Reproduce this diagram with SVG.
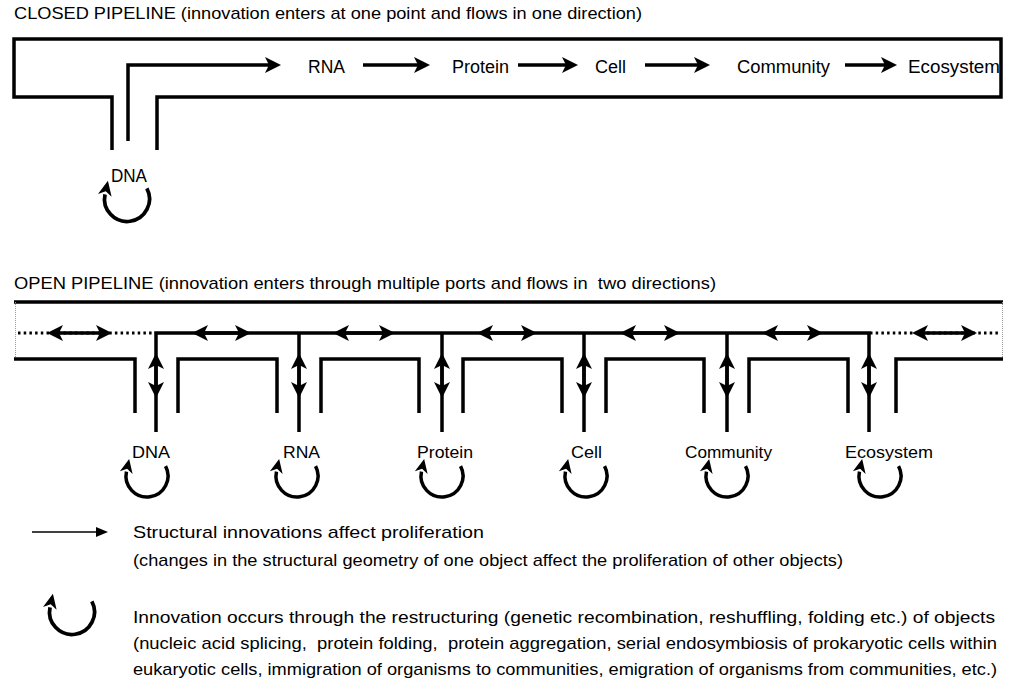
<svg xmlns="http://www.w3.org/2000/svg" xmlns:xlink="http://www.w3.org/1999/xlink" width="1012" height="682" viewBox="0 0 1012 682">
<style>
text{font-family:"Liberation Sans",Arial,sans-serif;fill:#000}
.t{font-size:17px;white-space:pre}
.lb{font-size:18px}
.lo{font-size:17px}
.wall{fill:none;stroke:#000;stroke-width:3.5;stroke-linejoin:miter}
.ln{fill:none;stroke:#000;stroke-width:3.5}
.dot{fill:none;stroke:#000;stroke-width:3;stroke-dasharray:2.5 3.2}
.bd{fill:none;stroke:#999;stroke-width:1;stroke-dasharray:1 1}
.da{fill:none;stroke:#000;stroke-width:3.5;marker-start:url(#ah);marker-end:url(#ah)}
.sa{fill:none;stroke:#000;stroke-width:3.5;marker-end:url(#ah)}
</style>
<defs>
<marker id="ah" viewBox="0 0 16 16" refX="8" refY="8" markerWidth="16" markerHeight="16" markerUnits="userSpaceOnUse" orient="auto-start-reverse"><path d="M0,0 L16,8 L0,16 L4,8 Z" fill="#000"/></marker>
<marker id="ahs" viewBox="0 0 12 10" refX="5" refY="5" markerWidth="12" markerHeight="10" markerUnits="userSpaceOnUse" orient="auto"><path d="M0,0 L12,5 L0,10 Z" fill="#000"/></marker>
<g id="cyc">
<path d="M18.54,-9.86 A21,21 0 1,1 -20.54,-4.37" fill="none" stroke="#000" stroke-width="3.5"/>
<path d="M-17.84,-17.08 L-14.39,-2.04 L-19.9,-7.3 L-27.11,-4.74 Z" fill="#000"/>
</g>
</defs>

<text class="t" x="14" y="19" textLength="628" lengthAdjust="spacingAndGlyphs">CLOSED PIPELINE (innovation enters at one point and flows in one direction)</text>
<text class="t" x="14" y="289" textLength="702" lengthAdjust="spacingAndGlyphs">OPEN PIPELINE (innovation enters through multiple ports and flows in  two directions)</text>

<g id="closed-pipe">
<path class="wall" d="M112,150 V97 H14 V39 H1001 V97 H157 V150"/>
</g>

<g id="open-pipe">
<line class="wall" x1="14" y1="302" x2="1003" y2="302"/>
<line class="bd" x1="15.5" y1="302" x2="15.5" y2="358"/>
<line class="bd" x1="1002.5" y1="302" x2="1002.5" y2="358"/>
<path class="wall" d="M14,359 H135 V413"/>
<path class="wall" d="M178,413 V359 H277 V413"/>
<path class="wall" d="M321,413 V359 H419 V413"/>
<path class="wall" d="M463,413 V359 H562 V413"/>
<path class="wall" d="M606,413 V359 H704 V413"/>
<path class="wall" d="M749,413 V359 H848 V413"/>
<path class="wall" d="M896,413 V359 H1003"/>
</g>

<g id="connectors">
<path class="sa" d="M128,141 V65 H273"/>
<line class="sa" x1="363" y1="65" x2="422" y2="65"/>
<line class="sa" x1="518" y1="65" x2="570" y2="65"/>
<line class="sa" x1="645" y1="65" x2="702" y2="65"/>
<line class="sa" x1="845" y1="65" x2="889" y2="65"/>

<path class="ln" d="M156,432 V333 H869 V432"/>
<line class="ln" x1="299" y1="333" x2="299" y2="432"/>
<line class="ln" x1="442" y1="333" x2="442" y2="432"/>
<line class="ln" x1="584" y1="333" x2="584" y2="432"/>
<line class="ln" x1="727" y1="333" x2="727" y2="432"/>
<line class="dot" x1="18" y1="333" x2="155" y2="333"/>
<line class="dot" x1="870" y1="333" x2="1001" y2="333"/>

<line class="da" x1="55" y1="333" x2="104" y2="333"/>
<line class="da" x1="200" y1="333" x2="243" y2="333"/>
<line class="da" x1="341" y1="333" x2="387" y2="333"/>
<line class="da" x1="485" y1="333" x2="529" y2="333"/>
<line class="da" x1="628" y1="333" x2="672" y2="333"/>
<line class="da" x1="770" y1="333" x2="815" y2="333"/>
<line class="da" x1="920" y1="333" x2="969" y2="333"/>

<line class="da" x1="156" y1="361" x2="156" y2="390"/>
<line class="da" x1="299" y1="361" x2="299" y2="390"/>
<line class="da" x1="442" y1="361" x2="442" y2="390"/>
<line class="da" x1="584" y1="361" x2="584" y2="390"/>
<line class="da" x1="727" y1="361" x2="727" y2="390"/>
<line class="da" x1="869" y1="361" x2="869" y2="390"/>
</g>

<g id="closed-dna"><text class="lb" x="111" y="182" textLength="36" lengthAdjust="spacingAndGlyphs">DNA</text><use xlink:href="#cyc" transform="translate(127,199) scale(1.07)"/></g>
<g id="closed-rna"><text class="lb" x="308" y="73" textLength="37" lengthAdjust="spacingAndGlyphs">RNA</text></g>
<g id="closed-protein"><text class="lb" x="452" y="73" textLength="57" lengthAdjust="spacingAndGlyphs">Protein</text></g>
<g id="closed-cell"><text class="lb" x="595" y="73" textLength="31" lengthAdjust="spacingAndGlyphs">Cell</text></g>
<g id="closed-community"><text class="lb" x="737" y="73" textLength="93" lengthAdjust="spacingAndGlyphs">Community</text></g>
<g id="closed-ecosystem"><text class="lb" x="908" y="73" textLength="92" lengthAdjust="spacingAndGlyphs">Ecosystem</text></g>

<g id="open-dna"><text class="lo" x="132" y="458" textLength="38" lengthAdjust="spacingAndGlyphs">DNA</text><use xlink:href="#cyc" transform="translate(147,476)"/></g>
<g id="open-rna"><text class="lo" x="283" y="458" textLength="37" lengthAdjust="spacingAndGlyphs">RNA</text><use xlink:href="#cyc" transform="translate(297,476)"/></g>
<g id="open-protein"><text class="lo" x="417" y="458" textLength="56" lengthAdjust="spacingAndGlyphs">Protein</text><use xlink:href="#cyc" transform="translate(442,476)"/></g>
<g id="open-cell"><text class="lo" x="571" y="458" textLength="31" lengthAdjust="spacingAndGlyphs">Cell</text><use xlink:href="#cyc" transform="translate(586,476)"/></g>
<g id="open-community"><text class="lo" x="685" y="458" textLength="87" lengthAdjust="spacingAndGlyphs">Community</text><use xlink:href="#cyc" transform="translate(727,476)"/></g>
<g id="open-ecosystem"><text class="lo" x="845" y="458" textLength="88" lengthAdjust="spacingAndGlyphs">Ecosystem</text><use xlink:href="#cyc" transform="translate(880,476)"/></g>

<g id="legend-arrow">
<line x1="32" y1="532" x2="101" y2="532" stroke="#000" stroke-width="1.5" marker-end="url(#ahs)"/>
<text class="t" x="133" y="538" textLength="351" lengthAdjust="spacingAndGlyphs">Structural innovations affect proliferation</text>
<text class="t" x="133" y="566" textLength="710" lengthAdjust="spacingAndGlyphs">(changes in the structural geometry of one object affect the proliferation of other objects)</text>
</g>
<g id="legend-cycle">
<use xlink:href="#cyc" transform="translate(72,612) scale(1.07)"/>
<text class="t" x="133" y="623" textLength="862" lengthAdjust="spacingAndGlyphs">Innovation occurs through the restructuring (genetic recombination, reshuffling, folding etc.) of objects</text>
<text class="t" x="133" y="649" textLength="864" lengthAdjust="spacingAndGlyphs">(nucleic acid splicing,  protein folding,  protein aggregation, serial endosymbiosis of prokaryotic cells within</text>
<text class="t" x="133" y="675" textLength="864" lengthAdjust="spacingAndGlyphs">eukaryotic cells, immigration of organisms to communities, emigration of organisms from communities, etc.)</text>
</g>
</svg>
